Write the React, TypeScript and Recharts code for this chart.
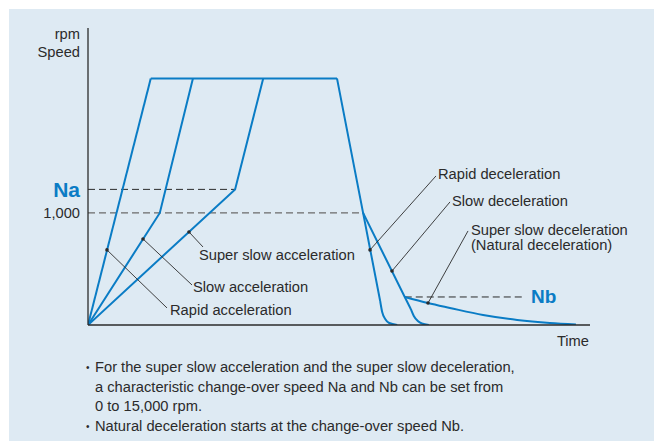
import React from 'react';
import {
  ComposedChart, Line, XAxis, YAxis, ReferenceLine, ReferenceDot
} from 'recharts';

// speed profile pieces (x = time units, y = rpm)
const accelRapid = [{ x: 0, y: 0 }, { x: 12.5, y: 2200 }];
const accelSlow = [{ x: 0, y: 0 }, { x: 14.3, y: 1000 }, { x: 20.9, y: 2200 }];
const accelSuperSlow = [{ x: 0, y: 0 }, { x: 29.3, y: 1210 }, { x: 34.9, y: 2200 }];
const plateau = [{ x: 12.5, y: 2200 }, { x: 49.6, y: 2200 }];
const decelRapid = [{ x: 49.6, y: 2200 }, { x: 54.8, y: 1000 }, { x: 58.2, y: 214 }];
const decelRapidTail = [
  { x: 58.2, y: 214 }, { x: 58.6, y: 116 }, { x: 59.2, y: 54 }, { x: 60.0, y: 18 }, { x: 61.6, y: 0 }
];
const decelSlow = [{ x: 54.8, y: 1000 }, { x: 63.1, y: 250 }, { x: 64.3, y: 143 }];
const decelSlowTail = [
  { x: 64.3, y: 143 }, { x: 64.9, y: 80 }, { x: 65.7, y: 36 }, { x: 66.5, y: 13 }, { x: 67.9, y: 0 }
];
const decelNatural = [
  { x: 63.1, y: 250 }, { x: 67.7, y: 196 }, { x: 72.1, y: 152 }, { x: 78.7, y: 89 },
  { x: 85.5, y: 45 }, { x: 92.0, y: 18 }, { x: 97.2, y: 4 }
];

const NA = 1210;
const NB = 250;
const yTicks = [NA, 1000];

// callouts: dot on curve -> end of leader, then text
const callouts = [
  { from: [3.78, 670], to: [15.74, 152], at: [16.33, 134], text: ['Rapid acceleration'] },
  { from: [10.96, 768], to: [20.72, 357], at: [20.92, 339], text: ['Slow acceleration'] },
  { from: [20.12, 830], to: [22.91, 696], at: [22.11, 625], text: ['Super slow acceleration'] },
  { from: [56.18, 670], to: [69.32, 1330], at: [69.72, 1348], text: ['Rapid deceleration'] },
  { from: [60.56, 482], to: [72.11, 1098], at: [72.51, 1107], text: ['Slow deceleration'] },
  { from: [67.73, 196], to: [75.7, 839], at: [76.29, 848], text: ['Super slow deceleration', '(Natural deceleration)'] },
];

const notes = [
  { bullet: true, text: 'For the super slow acceleration and the super slow deceleration,' },
  { bullet: false, text: 'a characteristic change-over speed Na and Nb can be set from' },
  { bullet: false, text: '0 to 15,000 rpm.' },
  { bullet: true, text: 'Natural deceleration starts at the change-over speed Nb.' },
];

const BLUE = '#0a7cc5';
const INK = '#2b2b2b';
const FONT = '"Liberation Sans", Arial, Helvetica, sans-serif';
const FS = 14.7;

const YTick = (props: any) => {
  const { x, y, payload } = props;
  if (payload.value === NA) {
    return (
      <text x={x} y={y} textAnchor="end" dominantBaseline="central" fill={BLUE}
        fontSize={21} fontWeight={700} fontFamily={FONT}>Na</text>
    );
  }
  return (
    <text x={x} y={y} textAnchor="end" dominantBaseline="central" fill={INK}
      fontSize={FS} fontFamily={FONT}>1,000</text>
  );
};

const CalloutText = (lines: string[], bold?: boolean) => (p: any) => (
  <g>
    {lines.map((l, i) => (
      <text key={i} x={p.cx} y={p.cy + i * 15} dominantBaseline="central"
        fill={bold ? BLUE : INK} fontSize={bold ? 19 : FS} fontWeight={bold ? 700 : 400}
        fontFamily={FONT}>{l}</text>
    ))}
  </g>
);

const seg = (d: { x: number, y: number }[], key: string, curve?: boolean) => (
  <Line key={key} data={d} dataKey="y" type={curve ? 'monotone' : 'linear'} stroke={BLUE}
    strokeWidth={2} dot={false} isAnimationActive={false} strokeLinejoin="miter" />
);

export default function App() {
  return (
    <div style={{ position: 'absolute', left: 0, top: 0, width: 654, height: 441, background: '#fff', fontFamily: FONT }}>
      <div style={{ position: 'absolute', left: 9, top: 9, right: 0, bottom: 0, background: '#deeaf3' }} />
      <div style={{ position: 'absolute', left: 0, top: 0 }}>
        <ComposedChart width={654} height={441} margin={{ top: 28, right: 64, bottom: 86, left: 8 }}>
          <XAxis type="number" dataKey="x" domain={[0, 100]} allowDataOverflow tick={false} tickLine={false}
            axisLine={{ stroke: INK, strokeWidth: 1.3 }} height={30}
            label={{
              content: (p: any) => {
                const vb = p.viewBox;
                return <text x={vb.x + vb.width - 1} y={vb.y + 16} textAnchor="end" dominantBaseline="central"
                  fill={INK} fontSize={FS} fontFamily={FONT}>Time</text>;
              }
            }} />
          <YAxis type="number" domain={[0, 2650]} allowDataOverflow ticks={yTicks} tick={<YTick />}
            tickLine={false} axisLine={{ stroke: INK, strokeWidth: 1.3 }} width={80}
            label={{
              content: (p: any) => {
                const vb = p.viewBox;
                const rx = vb.x + vb.width - 8;
                return (
                  <g>
                    <text x={rx} y={vb.y + 6} textAnchor="end" dominantBaseline="central" fill={INK} fontSize={FS} fontFamily={FONT}>rpm</text>
                    <text x={rx} y={vb.y + 24} textAnchor="end" dominantBaseline="central" fill={INK} fontSize={FS} fontFamily={FONT}>Speed</text>
                  </g>
                );
              }
            }} />

          <ReferenceLine segment={[{ x: 0, y: NA }, { x: 29.3, y: NA }]} stroke={INK} strokeDasharray="7 4" />
          <ReferenceLine segment={[{ x: 0, y: 1000 }, { x: 54.8, y: 1000 }]} stroke="#6b6b6b" strokeDasharray="7 4" strokeWidth={1.2} />
          <ReferenceLine segment={[{ x: 63.1, y: NB }, { x: 87.1, y: NB }]} stroke={INK} strokeDasharray="7 4" />
          <ReferenceDot x={88.25} y={NB} r={0} shape={CalloutText(['Nb'], true)} />

          {seg(accelRapid, 'ar')}
          {seg(accelSlow, 'as')}
          {seg(accelSuperSlow, 'ass')}
          {seg(plateau, 'pl')}
          {seg(decelRapid, 'dr')}
          {seg(decelRapidTail, 'drt', true)}
          {seg(decelSlow, 'ds')}
          {seg(decelSlowTail, 'dst', true)}
          {seg(decelNatural, 'dn', true)}

          {callouts.map((c, i) => (
            <ReferenceLine key={'l' + i} segment={[{ x: c.from[0], y: c.from[1] }, { x: c.to[0], y: c.to[1] }]}
              stroke={INK} strokeWidth={0.9} />
          ))}
          {callouts.map((c, i) => (
            <ReferenceDot key={'d' + i} x={c.from[0]} y={c.from[1]} r={1.8} fill={INK} stroke="none" />
          ))}
          {callouts.map((c, i) => (
            <ReferenceDot key={'t' + i} x={c.at[0]} y={c.at[1]} r={0} shape={CalloutText(c.text)} />
          ))}
        </ComposedChart>
      </div>
      {notes.map((n, i) => (
        <div key={i} style={{ position: 'absolute', left: 86, top: 358 + i * 19.7, fontSize: FS, color: INK, whiteSpace: 'nowrap', lineHeight: '19px' }}>
          <span style={{ display: 'inline-block', width: 9, fontSize: 10, verticalAlign: 'top', lineHeight: '19px' }}>{n.bullet ? '•' : ''}</span>{n.text}
        </div>
      ))}
    </div>
  );
}
